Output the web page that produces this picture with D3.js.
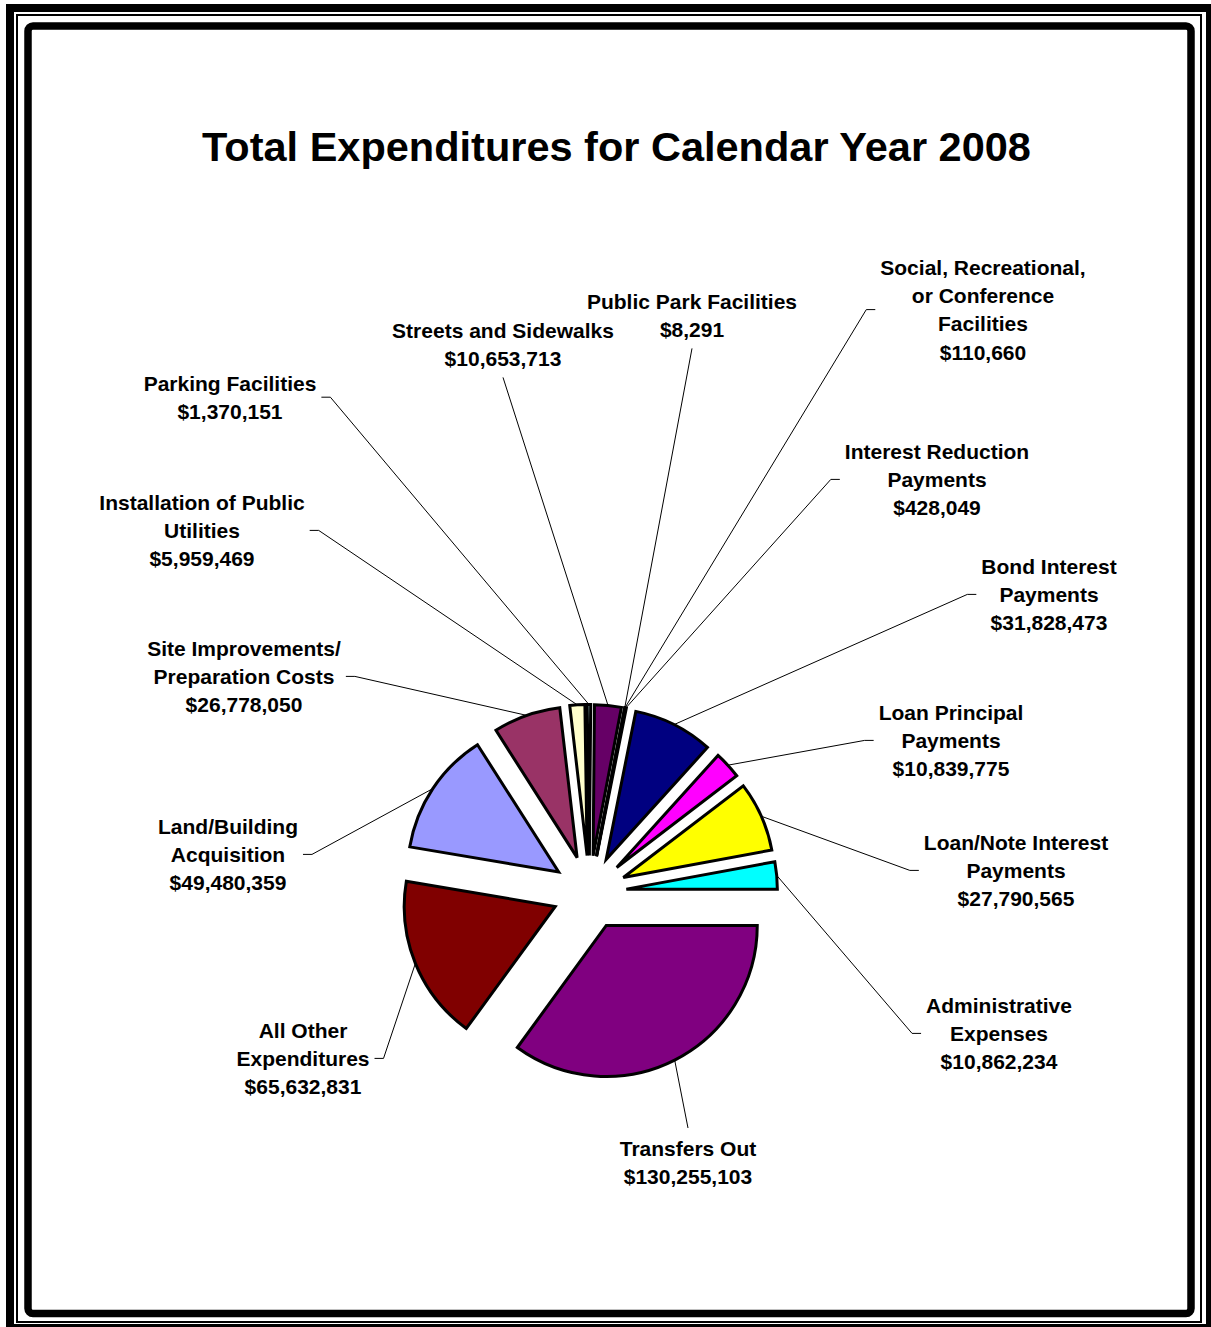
<!DOCTYPE html>
<html><head><meta charset="utf-8">
<script src="https://cdn.jsdelivr.net/npm/d3@7"></script>
<style>body{margin:0;background:#fff}svg{display:block}</style>
</head><body><svg id="c" width="1211" height="1327"></svg>
<script>
// ---- data ----
const categories = [
  "Land/Building Acquisition", "Site Improvements/Preparation Costs", "Installation of Public Utilities",
  "Parking Facilities", "Streets and Sidewalks", "Public Park Facilities",
  "Social, Recreational, or Conference Facilities", "Interest Reduction Payments", "Bond Interest Payments",
  "Loan Principal Payments", "Loan/Note Interest Payments", "Administrative Expenses",
  "Transfers Out", "All Other Expenditures"
];
const values = [49480359, 26778050, 5959469, 1370151, 10653713, 8291, 110660, 428049,
  31828473, 10839775, 27790565, 10862234, 130255103, 65632831];
const labelNameLines = [
  ["Land/Building", "Acquisition"], ["Site Improvements/", "Preparation Costs"], ["Installation of Public", "Utilities"],
  ["Parking Facilities"], ["Streets and Sidewalks"], ["Public Park Facilities"],
  ["Social, Recreational,", "or Conference", "Facilities"], ["Interest Reduction", "Payments"], ["Bond Interest", "Payments"],
  ["Loan Principal", "Payments"], ["Loan/Note Interest", "Payments"], ["Administrative", "Expenses"],
  ["Transfers Out"], ["All Other", "Expenditures"]
];
const title = "Total Expenditures for Calendar Year 2008";

// ---- styles / layout ----
const colors = ["#9999FF", "#993366", "#FFFFCC", "#CCFFFF", "#660066", "#FF8080", "#0066CC", "#CCCCFF",
  "#000080", "#FF00FF", "#FFFF00", "#00FFFF", "#800080", "#800000"];
// label block: center x, first line center y, side of the label box where the leader attaches
const labelX = [228, 244, 202, 230, 503, 692, 983, 937, 1049, 951, 1016, 999, 688, 303];
const labelY = [826, 648, 502, 383, 330, 301, 267, 451, 566, 712, 842, 1005, 1148, 1030];
const labelAttach = ["right", "right", "right", "right", "bottom", "bottom", "left", "left", "left", "left", "left", "left", "top", "right"];
const firstSliceAngle = 279.6; // degrees
const cx = 589.5, cy = 892.5, R = 151, explode = 37;
const fontFam = "'Liberation Sans', Arial, Helvetica, sans-serif";
const lineH = 28.4, labelSize = 21;

const svg = d3.select("#c");
svg.append("rect").attr("width", 1211).attr("height", 1327).attr("fill", "#fff");

// frame
svg.append("rect").attr("x", 10).attr("y", 8).attr("width", 1200).attr("height", 1320)
  .attr("fill", "none").attr("stroke", "#000").attr("stroke-width", 8);
svg.append("rect").attr("x", 17).attr("y", 15).attr("width", 1184).attr("height", 1307)
  .attr("fill", "none").attr("stroke", "#000").attr("stroke-width", 2);
svg.append("rect").attr("x", 28).attr("y", 26).attr("width", 1163).attr("height", 1287.5).attr("rx", 5)
  .attr("fill", "none").attr("stroke", "#000").attr("stroke-width", 7.5);

// title
svg.append("text").attr("x", 616.5).attr("y", 160.5).attr("text-anchor", "middle")
  .attr("font-family", fontFam).attr("font-weight", "bold").attr("font-size", 41.5).text(title);

// pie
const a0 = firstSliceAngle * Math.PI / 180;
const pie = d3.pie().sort(null).value(d => d).startAngle(a0).endAngle(a0 + 2 * Math.PI);
const arcs = pie(values);
const arc = d3.arc().innerRadius(0).outerRadius(R);
const arcEdge = d3.arc().innerRadius(R).outerRadius(R);
const mid = d => (d.startAngle + d.endAngle) / 2;
const off = d => [Math.sin(mid(d)) * explode, -Math.cos(mid(d)) * explode];

const g = svg.append("g").attr("transform", `translate(${cx},${cy})`);
g.selectAll("path").data(arcs).enter().append("path")
  .attr("transform", d => `translate(${off(d)[0]},${off(d)[1]})`)
  .attr("d", arc)
  .attr("fill", (d, i) => colors[i])
  .attr("stroke", "#000").attr("stroke-width", 3).attr("stroke-linejoin", "miter");

// labels
const fmt = d3.format("$,");
const labels = svg.append("g");
const leaders = svg.append("g");
arcs.forEach((d, i) => {
  const lines = labelNameLines[i].concat([fmt(values[i])]);
  const t = labels.append("text").attr("font-family", fontFam).attr("font-weight", "bold")
    .attr("font-size", labelSize).attr("text-anchor", "middle");
  let maxW = 0;
  lines.forEach((ln, k) => {
    const ts = t.append("tspan").attr("x", labelX[i]).attr("y", labelY[i] + k * lineH + 7.5).text(ln);
    maxW = Math.max(maxW, ts.node().getComputedTextLength());
  });
  const n = lines.length;
  const midY = labelY[i] + (n - 1) * lineH / 2;
  const p = arcEdge.centroid(d);
  const o = off(d);
  const sx = cx + p[0] + o[0], sy = cy + p[1] + o[1];
  let pts;
  const side = labelAttach[i];
  if (side === "right") {
    const near = labelX[i] + maxW / 2 + 5;
    pts = [[sx, sy], [near + 9, midY], [near, midY]];
  } else if (side === "left") {
    const near = labelX[i] - maxW / 2 - 5;
    pts = [[sx, sy], [near - 9, midY], [near, midY]];
  } else if (side === "bottom") {
    pts = [[sx, sy], [labelX[i], labelY[i] + (n - 1) * lineH + 19]];
  } else {
    pts = [[sx, sy], [labelX[i], labelY[i] - 20]];
  }
  leaders.append("path").attr("d", d3.line()(pts)).attr("fill", "none")
    .attr("stroke", "#000").attr("stroke-width", 1);
});
</script>
</body></html>
